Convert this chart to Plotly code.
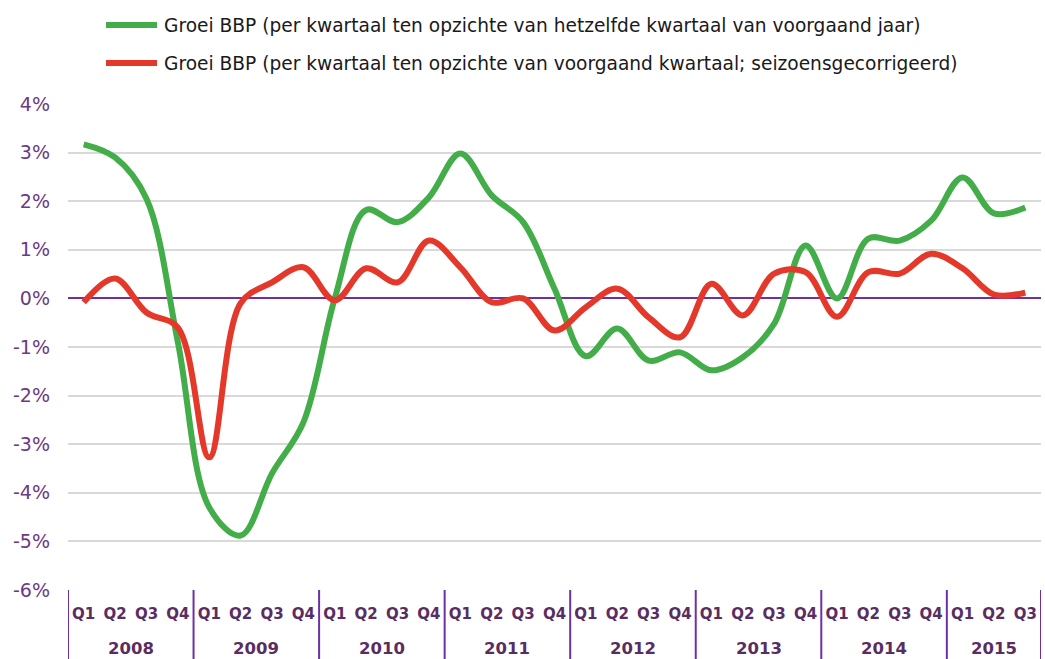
import plotly.graph_objects as go

years = ["2008", "2009", "2010", "2011", "2012", "2013", "2014", "2015"]
quarters = ["Q1", "Q2", "Q3", "Q4"]
n_points = 31

green_name = "Groei BBP (per kwartaal ten opzichte van hetzelfde kwartaal van voorgaand jaar)"
red_name = "Groei BBP (per kwartaal ten opzichte van voorgaand kwartaal; seizoensgecorrigeerd)"

green_vals = [3.17, 2.9, 2.05, -0.9, -4.3, -4.88, -3.6, -2.55, 0.0, 1.82, 1.57, 2.08,
              2.98, 2.12, 1.57, 0.2, -1.19, -0.62, -1.28, -1.11, -1.48, -1.21, -0.52, 1.09,
              0.0, 1.23, 1.19, 1.6, 2.49, 1.75, 1.87]
red_vals = [-0.08, 0.41, -0.29, -0.6, -3.27, -0.1, 0.33, 0.64, -0.04, 0.62, 0.33, 1.19,
            0.64, -0.08, 0.0, -0.66, -0.18, 0.2, -0.39, -0.8, 0.3, -0.35, 0.51, 0.54,
            -0.38, 0.54, 0.51, 0.92, 0.62, 0.08, 0.12]

y_tickvals = [4, 3, 2, 1, 0, -1, -2, -3, -4, -5, -6]
y_ticktext = ["4%", "3%", "2%", "1%", "0%", "-1%", "-2%", "-3%", "-4%", "-5%", "-6%"]

green_color = "#43ad49"
red_color = "#e3382a"
purple = "#7030a0"
label_purple = "#5a2d62"

periods = [(y, q) for y in years for q in quarters][:n_points]
x_keys = [f"{y} {q}" for y, q in periods]
x_quarter_text = [q for y, q in periods]

fig = go.Figure()
fig.add_trace(go.Scatter(x=x_keys, y=green_vals, mode="lines", name=green_name,
                         line=dict(color=green_color, width=6, shape="spline", smoothing=1.0)))
fig.add_trace(go.Scatter(x=x_keys, y=red_vals, mode="lines", name=red_name,
                         line=dict(color=red_color, width=6, shape="spline", smoothing=1.0)))

# plot area in pixels
L, T, W, H = 68, 104, 973, 486
def px_x(p):
    return (p - L) / W
def px_y(p):
    return (T + H - p) / H

# manual legend
for (name, col, ypix) in [(green_name, green_color, 25), (red_name, red_color, 63)]:
    fig.add_shape(type="line", xref="paper", yref="paper",
                  x0=px_x(106), x1=px_x(157), y0=px_y(ypix), y1=px_y(ypix),
                  line=dict(color=col, width=6))
    fig.add_annotation(xref="paper", yref="paper", x=px_x(162), y=px_y(ypix),
                       xanchor="left", yanchor="middle", showarrow=False, text=name,
                       font=dict(size=18.6, color="#1a1a1a", family="DejaVu Sans"))

# year group labels and dividers
year_idx = {}
for i, (y, q) in enumerate(periods):
    year_idx.setdefault(y, []).append(i)
for y in years:
    idx = year_idx[y]
    fig.add_annotation(xref="x", yref="paper", x=(idx[0] + idx[-1]) / 2, y=px_y(648),
                       xanchor="center", yanchor="middle", showarrow=False, text=f"<b>{y}</b>",
                       font=dict(size=16.5, color=label_purple, family="DejaVu Sans"))
    fig.add_shape(type="line", xref="x", yref="paper", x0=idx[0] - 0.5, x1=idx[0] - 0.5,
                  y0=0, y1=px_y(665), line=dict(color=purple, width=2))
last = year_idx[years[-1]][-1] + 0.5
fig.add_shape(type="line", xref="x", yref="paper", x0=last, x1=last,
              y0=0, y1=px_y(665), line=dict(color=purple, width=2))

fig.update_layout(
    width=1045, height=659,
    margin=dict(l=L, r=1045 - L - W, t=T, b=659 - T - H),
    paper_bgcolor="white", plot_bgcolor="white",
    font=dict(family="DejaVu Sans", size=15, color=label_purple),
    showlegend=False,
)
fig.update_yaxes(range=[-6, 4], tickvals=y_tickvals, ticktext=y_ticktext,
                 showgrid=True, gridcolor="#d9d9d9", gridwidth=1.5,
                 zeroline=True, zerolinecolor=purple, zerolinewidth=1.5,
                 tickfont=dict(size=19, color="#6b3a86"), ticklabelstandoff=17,
                 showline=False, fixedrange=True)
fig.update_xaxes(type="category", range=[-0.5, n_points - 0.5],
                 tickvals=x_keys, ticktext=x_quarter_text,
                 showgrid=False, showline=False, tickangle=0, zeroline=False,
                 tickfont=dict(size=15, color=label_purple, family="DejaVu Sans", weight="bold"),
                 ticklabelstandoff=13, ticks="", fixedrange=True)

fig.write_html("out.html", config={"displayModeBar": False},
               post_script="document.body.style.margin='0';document.body.style.overflow='hidden';")
